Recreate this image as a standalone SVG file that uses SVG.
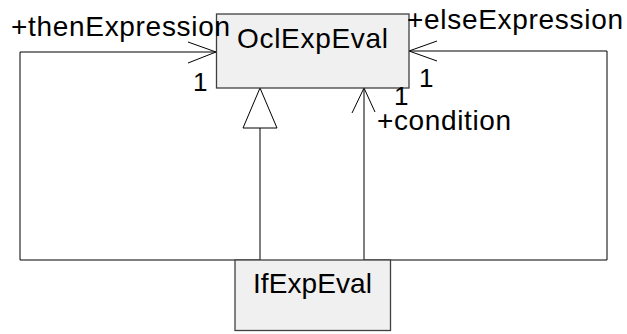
<svg xmlns="http://www.w3.org/2000/svg" width="627" height="334" viewBox="0 0 627 334">
<style>
.box{fill:#f0f0f0;stroke:#404040;stroke-width:1.3}
.ln{fill:none;stroke:#000;stroke-width:1}
.t{font-family:"Liberation Sans",Arial,sans-serif;font-size:28px;fill:#000}
.m{font-family:"Liberation Sans",Arial,sans-serif;font-size:26px;fill:#000}
</style>
<rect width="627" height="334" fill="#fff"/>
<g id="connectors">
<g id="thenExpression">
<polyline class="ln" points="216,52 20,52 20,260 260,260"/>
<polyline class="ln" points="188,42 216,52 188,63"/>
</g>
<g id="elseExpression">
<polyline class="ln" points="409,51 607,51 607,260 364,260"/>
<polyline class="ln" points="437,41 409,51 437,61"/>
</g>
<g id="condition">
<line class="ln" x1="364" y1="88" x2="364" y2="260"/>
<polyline class="ln" points="352,113 364,88 375,112"/>
</g>
<g id="generalization">
<line class="ln" x1="260" y1="128" x2="260" y2="260"/>
<polygon points="260,88 243,128 277,128" fill="#fff" stroke="#000" stroke-width="1"/>
</g>
</g>
<g id="OclExpEval">
<rect class="box" x="216.5" y="14" width="192.5" height="74"/>
<text class="t" x="237" y="48" textLength="151" lengthAdjust="spacing">OclExpEval</text>
</g>
<g id="IfExpEval">
<rect class="box" x="235" y="260" width="155.5" height="70.5"/>
<text class="t" x="253" y="293" textLength="119" lengthAdjust="spacing">IfExpEval</text>
</g>
<g id="connector-labels">
<text class="t" x="11" y="36" textLength="219" lengthAdjust="spacing">+thenExpression</text>
<text class="m" x="193" y="91">1</text>
<text class="t" x="407" y="29" textLength="216" lengthAdjust="spacing">+elseExpression</text>
<text class="m" x="419" y="87">1</text>
<text class="m" x="394" y="105">1</text>
<text class="t" x="377" y="130" textLength="134" lengthAdjust="spacing">+condition</text>
</g>
</svg>
